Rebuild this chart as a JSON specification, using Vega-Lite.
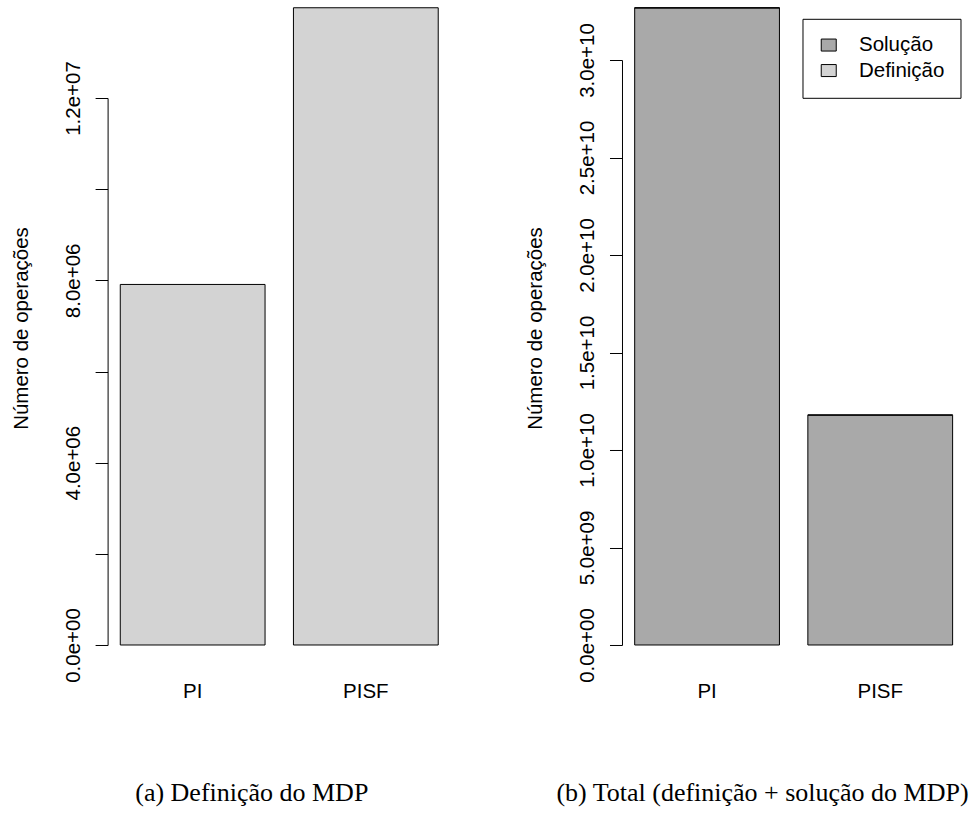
{
  "$schema": "https://vega.github.io/schema/vega-lite/v6.json",
  "background": "white",
  "padding": {"left": 11.6, "top": 0, "right": 0, "bottom": 0},
  "config": {
    "view": {"stroke": null},
    "font": "Liberation Sans"
  },
  "datasets": {
    "definicao": [
      {"metodo": "PI", "valor": 7910000},
      {"metodo": "PISF", "valor": 13980000}
    ],
    "total": [
      {"metodo": "PI", "componente": "Solução", "valor": 32672000000},
      {"metodo": "PI", "componente": "Definição", "valor": 7910000},
      {"metodo": "PISF", "componente": "Solução", "valor": 11786000000},
      {"metodo": "PISF", "componente": "Definição", "valor": 13980000}
    ]
  },
  "spacing": 170.4,
  "bounds": "flush",
  "resolve": {"scale": {"color": "independent", "y": "independent", "x": "independent"}, "legend": {"color": "independent"}},
  "hconcat": [
    {
      "width": 343.3,
      "height": 645,
      "data": {"name": "definicao"},
      "title": {"text": "(a) Definição do MDP", "orient": "bottom", "anchor": "middle", "frame": "group", "font": "Liberation Serif", "fontSize": 26, "fontWeight": "normal", "color": "black", "baseline": "alphabetic", "offset": 99, "dx": -27.45},
      "mark": {"type": "bar", "fill": "#D3D3D3", "stroke": "black", "strokeWidth": 1},
      "encoding": {
        "x": {
          "field": "metodo", "type": "nominal", "sort": ["PI", "PISF"],
          "scale": {"paddingInner": 0.164, "paddingOuter": 0.0732},
          "axis": {"title": null, "ticks": false, "tickSize": 0, "domain": false, "labelAngle": 0, "labelAlign": "center", "labelBaseline": "alphabetic", "labelPadding": 53, "labelFont": "Liberation Sans", "labelFontSize": 20.5, "labelColor": "black"}
        },
        "y": {
          "field": "valor", "type": "quantitative",
          "scale": {"domain": [0, 14150000], "nice": false, "zero": true},
          "axis": {
            "values": [0, 2000000, 4000000, 6000000, 8000000, 10000000, 12000000],
            "labelExpr": "datum.value == 0 ? '0.0e+00' : datum.value == 4000000 ? '4.0e+06' : datum.value == 8000000 ? '8.0e+06' : datum.value == 12000000 ? '1.2e+07' : ''",
            "grid": false,
            "labelOverlap": false, "labelFlush": false,
            "labelAngle": 270, "labelAlign": "center", "labelBaseline": "alphabetic", "labelPadding": 16,
            "labelFont": "Liberation Sans", "labelFontSize": 20.5, "labelColor": "black",
            "tickSize": 12.5, "tickColor": "black", "tickWidth": 1,
            "domainColor": "black", "domainWidth": 1, "domainDash": [547, 3000],
            "title": "Número de operações", "titleFont": "Liberation Sans", "titleFontSize": 20.5, "titleFontWeight": "normal", "titleColor": "black",
            "titleAngle": 270, "titleAlign": "center", "titleBaseline": "alphabetic", "titleX": -80, "titleY": 328
          }
        }
      }
    },
    {
      "width": 343.3,
      "height": 645,
      "data": {"name": "total"},
      "title": {"text": "(b) Total (definição + solução do MDP)", "orient": "bottom", "anchor": "middle", "frame": "group", "font": "Liberation Serif", "fontSize": 26, "fontWeight": "normal", "color": "black", "baseline": "alphabetic", "offset": 99, "dx": -31.15},
      "mark": {"type": "bar", "stroke": "black", "strokeWidth": 1},
      "encoding": {
        "x": {
          "field": "metodo", "type": "nominal", "sort": ["PI", "PISF"],
          "scale": {"paddingInner": 0.164, "paddingOuter": 0.0732},
          "axis": {"title": null, "ticks": false, "tickSize": 0, "domain": false, "labelAngle": 0, "labelAlign": "center", "labelBaseline": "alphabetic", "labelPadding": 53, "labelFont": "Liberation Sans", "labelFontSize": 20.5, "labelColor": "black"}
        },
        "y": {
          "field": "valor", "type": "quantitative", "aggregate": "sum", "stack": "zero",
          "scale": {"domain": [0, 33077000000], "nice": false, "zero": true},
          "axis": {
            "values": [0, 5000000000, 10000000000, 15000000000, 20000000000, 25000000000, 30000000000],
            "labelExpr": "datum.value == 0 ? '0.0e+00' : datum.value == 5000000000 ? '5.0e+09' : datum.value == 10000000000 ? '1.0e+10' : datum.value == 15000000000 ? '1.5e+10' : datum.value == 20000000000 ? '2.0e+10' : datum.value == 25000000000 ? '2.5e+10' : '3.0e+10'",
            "grid": false,
            "labelOverlap": false, "labelFlush": false,
            "labelAngle": 270, "labelAlign": "center", "labelBaseline": "alphabetic", "labelPadding": 16,
            "labelFont": "Liberation Sans", "labelFontSize": 20.5, "labelColor": "black",
            "tickSize": 12.5, "tickColor": "black", "tickWidth": 1,
            "domainColor": "black", "domainWidth": 1, "domainDash": [585, 3000],
            "title": "Número de operações", "titleFont": "Liberation Sans", "titleFontSize": 20.5, "titleFontWeight": "normal", "titleColor": "black",
            "titleAngle": 270, "titleAlign": "center", "titleBaseline": "alphabetic", "titleX": -80, "titleY": 328
          }
        },
        "color": {
          "field": "componente", "type": "nominal", "sort": ["Solução", "Definição"],
          "scale": {"domain": ["Solução", "Definição"], "range": ["#A9A9A9", "#D3D3D3"]},
          "legend": {
            "title": null, "orient": "none", "legendX": 180.5, "legendY": 18.8, "direction": "vertical",
            "strokeColor": "black", "fillColor": "white", "padding": 16,
            "symbolType": "M-1,-0.8H1V0.8H-1Z", "symbolSize": 225, "symbolStrokeColor": "black", "symbolStrokeWidth": 1, "symbolOpacity": 1,
            "labelFont": "Liberation Sans", "labelFontSize": 20.5, "labelColor": "black", "labelOffset": 20, "rowPadding": 4.5
          }
        },
        "order": {"field": "componente", "sort": "descending"}
      }
    }
  ]
}
